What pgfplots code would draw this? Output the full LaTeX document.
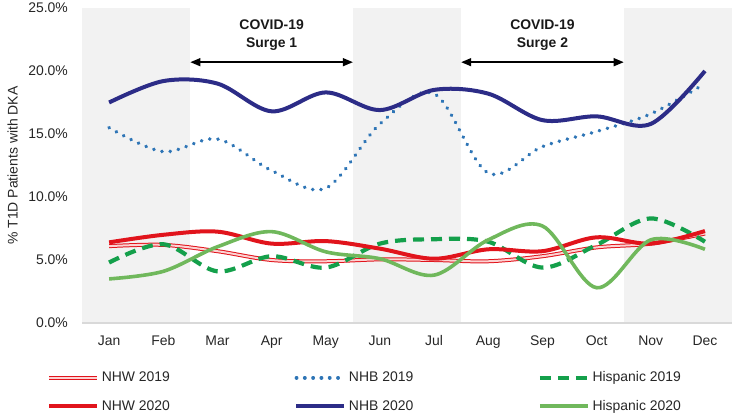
\documentclass[border=0pt]{standalone}
\usepackage{fontspec}
\setmainfont{Liberation Sans}
\usepackage{pgfplots}
\pgfplotsset{compat=1.18}
\usetikzlibrary{arrows.meta}
\definecolor{bandgray}{RGB}{242,242,242}
\definecolor{axgray}{RGB}{217,217,217}
\definecolor{nhwred}{RGB}{225,20,28}
\definecolor{nhwpink}{RGB}{252,210,210}
\definecolor{nhbnavy}{RGB}{44,44,135}
\definecolor{nhbblue}{RGB}{46,117,182}
\definecolor{hispdark}{RGB}{20,160,75}
\definecolor{hisplight}{RGB}{112,184,92}
\begin{document}
\begin{tikzpicture}
\begin{axis}[
  scale only axis, width=650bp, height=315bp,
  xmin=0.5, xmax=12.5, ymin=0, ymax=25,
  xtick={1,2,3,4,5,6,7,8,9,10,11,12},
  xticklabels={Jan,Feb,Mar,Apr,May,Jun,Jul,Aug,Sep,Oct,Nov,Dec},
  ytick={0,5,10,15,20,25},
  yticklabel={\pgfmathprintnumber[fixed,fixed zerofill,precision=1]{\tick}\%},
  /pgf/number format/assume math mode=true,
  major tick length=0pt,
  axis line style={draw=none},
  tick label style={font=\fontsize{14}{16}\selectfont, text=black!85},
  yticklabel style={inner sep=0pt, xshift=-14bp},
  xticklabel style={inner sep=0pt, text height=10bp, text depth=3bp, yshift=-12bp},
  ylabel={\% T1D Patients with DKA},
  ylabel style={at={(axis description cs:-0.1069,0.5)}, anchor=center, font=\fontsize{14}{16}\selectfont, text=black!85},
  clip=false,
  smooth, tension=0.55,
  legend columns=3,
  legend image code/.code={\draw[#1] (0bp,0bp) -- (48bp,0bp);},
  legend style={at={(axis description cs:-0.0538,-0.219)}, anchor=west, draw=none, fill=none,
    font=\fontsize{14}{16}\selectfont, text=black!85, inner sep=0pt,
    nodes={inner sep=2.5bp},
    row sep=12bp,
    /tikz/every even column/.append style={column sep=122bp}},
  legend cell align=left,
]
% background bands
\addplot[fill=bandgray, draw=none, forget plot, sharp plot] coordinates {(0.5,0) (0.5,25) (2.5,25) (2.5,0)} -- cycle;
\addplot[fill=bandgray, draw=none, forget plot, sharp plot] coordinates {(5.5,0) (5.5,25) (7.5,25) (7.5,0)} -- cycle;
\addplot[fill=bandgray, draw=none, forget plot, sharp plot] coordinates {(10.5,0) (10.5,25) (12.5,25) (12.5,0)} -- cycle;
\draw[axgray, line width=1.5bp] (rel axis cs:0,0) -- (rel axis cs:1,0);

% NHW 2019
\addplot[draw=nhwred, double=nhwpink, double distance=2bp, line width=1bp] coordinates {
(1,6.1) (2,6.2) (3,5.7) (4,5.0) (5,4.9) (6,5.05) (7,5.0) (8,4.9) (9,5.3) (10,6.0) (11,6.3) (12,7.1)};
\addlegendentry{NHW 2019}
% NHB 2019
\addplot[draw=nhbblue, line width=3.8bp, line cap=round, dash pattern=on 0.1bp off 8.2bp] coordinates {
(1,15.5) (2,13.6) (3,14.6) (4,12.1) (5,10.7) (6,15.8) (7,18.2) (8,11.9) (9,14.0) (10,15.2) (11,16.6) (12,19.0)};
\addlegendentry{NHB 2019}
% Hispanic 2019
\addplot[draw=hispdark, line width=4.2bp, dash pattern=on 11bp off 7bp] coordinates {
(1,4.8) (2,6.25) (3,4.1) (4,5.3) (5,4.4) (6,6.3) (7,6.65) (8,6.45) (9,4.4) (10,6.2) (11,8.3) (12,6.45)};
\addlegendentry{Hispanic 2019}
% NHW 2020
\addplot[draw=nhwred, line width=4bp] coordinates {
(1,6.4) (2,7.0) (3,7.25) (4,6.3) (5,6.5) (6,5.9) (7,5.1) (8,5.85) (9,5.7) (10,6.8) (11,6.3) (12,7.3)};
\addlegendentry{NHW 2020}
% NHB 2020
\addplot[draw=nhbnavy, line width=4bp] coordinates {
(1,17.5) (2,19.2) (3,19.0) (4,16.8) (5,18.3) (6,16.9) (7,18.5) (8,18.2) (9,16.1) (10,16.4) (11,15.8) (12,20.0)};
\addlegendentry{NHB 2020}
% Hispanic 2020
\addplot[draw=hisplight, line width=3.6bp] coordinates {
(1,3.5) (2,4.1) (3,6.05) (4,7.25) (5,5.65) (6,5.1) (7,3.8) (8,6.6) (9,7.7) (10,2.8) (11,6.6) (12,5.85)};
\addlegendentry{Hispanic 2020}

% surge annotations
\draw[black, line width=1.5bp, {Triangle[length=10bp,width=8bp]}-{Triangle[length=10bp,width=8bp]}] (axis cs:2.5,20.7) -- (axis cs:5.5,20.7);
\draw[black, line width=1.5bp, {Triangle[length=10bp,width=8bp]}-{Triangle[length=10bp,width=8bp]}] (axis cs:7.5,20.7) -- (axis cs:10.5,20.7);
\node[align=center, font=\fontsize{14}{19}\selectfont\bfseries, text=black!90] at (axis cs:4,22.85) {COVID-19\\Surge 1};
\node[align=center, font=\fontsize{14}{19}\selectfont\bfseries, text=black!90] at (axis cs:9,22.85) {COVID-19\\Surge 2};
\path (rel axis cs:-0.1262,-0.2952) rectangle (rel axis cs:1.0015,1.0254);
\end{axis}
\end{tikzpicture}
\end{document}
